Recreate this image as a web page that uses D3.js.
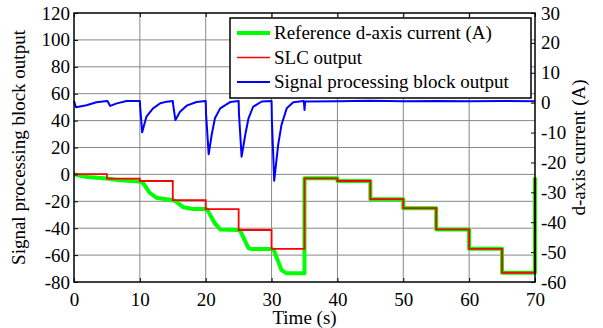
<!DOCTYPE html>
<html>
<head>
<meta charset="utf-8">
<script src="https://cdn.jsdelivr.net/npm/d3@7"></script>
<style>
  body { margin: 0; background: #fff; }
  svg text { font-family: "Liberation Serif", "Times New Roman", serif; fill: #000; }
</style>
</head>
<body>
<div id="chart"></div>
<script>
// tick labels
var timeTicks = [0, 10, 20, 30, 40, 50, 60, 70];
var leftTicks = [-80, -60, -40, -20, 0, 20, 40, 60, 80, 100, 120];
var rightTicks = [-60, -50, -40, -30, -20, -10, 0, 10, 20, 30];

// reference d-axis current (A), right axis
var refTime = [0, 1, 2, 5, 7, 10, 10.5, 11.5, 12.5, 14, 15, 15.5, 16.6, 18.1, 20, 20.2, 21.4, 22.2, 25,
  25.2, 26.5, 27, 30, 30.3, 31.5, 32.3, 35, 35, 40, 40, 45, 45, 50, 50, 55, 55, 60, 60, 65, 65, 70, 70];
var refCurrent = [-23.9, -24.5, -24.9, -25.4, -26.0, -26.4, -26.9, -30.2, -31.8, -32.3, -32.6, -33.1, -35.0, -35.6, -35.6, -35.7, -40.4, -42.4, -42.6,
  -42.7, -48.7, -49.0, -49.0, -49.1, -56.0, -57.1, -57.1, -25.3, -25.3, -26.2, -26.2, -32.3, -32.3, -35.3, -35.3, -42.4, -42.4, -48.9, -48.9, -56.9, -56.9, -25];

// SLC output (A), held from each time to the next
var slcTime = [0, 5, 10, 15, 20, 25, 30, 35, 40, 45, 50, 55, 60, 65, 70];
var slcOutput = [-23.9, -25.4, -26.2, -32.6, -35.6, -42.6, -48.9, -25.3, -26.2, -32.3, -35.3, -42.4, -48.9, -56.9, -25];

// signal processing block output, left axis
var spTime = [0, 0.3, 1.9, 3.4, 5, 5.1, 5.5, 6.5, 8, 10,
  10.05, 10.35, 11.0, 12.0, 13.1, 14.1, 15,
  15.05, 15.4, 16.1, 17.1, 18.6, 20,
  20.05, 20.45, 20.9, 21.4, 22.2, 23.7, 25,
  25.05, 25.45, 26.0, 26.5, 27.2, 28.5, 30,
  30.05, 30.4, 31.0, 31.5, 32.3, 33.3, 34.9,
  35, 35.1, 40, 45, 50, 55, 60, 65, 70];
var spOutput = [54.6, 49.9, 51.4, 53.6, 54.6, 54.4, 50.9, 52.8, 54.6, 54.6,
  50, 31.3, 43, 49.1, 52.9, 54.1, 54.6,
  52, 40.4, 46.6, 51.1, 53.8, 54.6,
  45, 15, 29.3, 41.7, 49.1, 53.8, 54.6,
  45, 13.2, 29.3, 41.7, 50.3, 54.2, 54.6,
  40, -4.7, 21.9, 36.7, 49.1, 53.6, 54.6,
  47.9, 54.2, 54.4, 54.8, 54.3, 54.6, 54.3, 54.6, 54.4];

var legendItems = [
  {label: "Reference d-axis current (A)", color: "#00ff00", w: 4},
  {label: "SLC output", color: "#ff0000", w: 1.5},
  {label: "Signal processing block output", color: "#0000ff", w: 1.8}
];

var W = 603, H = 328;
var margin = {left: 74, top: 13, right: 68, bottom: 46};
var width = W - margin.left - margin.right;
var height = H - margin.top - margin.bottom;
var serif = "Liberation Serif";
var fs = "19px";

var svg = d3.select("#chart").append("svg")
  .attr("width", W).attr("height", H);

var g = svg.append("g")
  .attr("transform", "translate(" + margin.left + "," + margin.top + ")");

var x = d3.scaleLinear().domain([0, 70]).range([0, width]);
var yL = d3.scaleLinear().domain([-80, 120]).range([height, 0]);
var yR = d3.scaleLinear().domain([-60, 30]).range([height, 0]);

// grid
g.append("g").selectAll("line")
  .data(timeTicks.slice(1, -1)).enter().append("line")
  .attr("x1", function(d){ return x(d); }).attr("x2", function(d){ return x(d); })
  .attr("y1", 0).attr("y2", height)
  .attr("stroke", "#888").attr("stroke-width", 1);
g.append("g").selectAll("line")
  .data(leftTicks.slice(1, -1)).enter().append("line")
  .attr("x1", 0).attr("x2", width)
  .attr("y1", function(d){ return yL(d); }).attr("y2", function(d){ return yL(d); })
  .attr("stroke", "#888").attr("stroke-width", 1);

// reference current
var refLine = d3.line()
  .x(function(d, i){ return x(refTime[i]); })
  .y(function(d){ return yR(d); });
g.append("path").datum(refCurrent)
  .attr("d", refLine)
  .attr("fill", "none").attr("stroke", "#00ff00").attr("stroke-width", 4)
  .attr("stroke-linejoin", "round");

// SLC output, steps with the final jump at t=70
var slcPts = [];
for (var i = 0; i < slcTime.length - 1; i++) {
  slcPts.push([slcTime[i], slcOutput[i]]);
  slcPts.push([slcTime[i + 1], slcOutput[i]]);
}
slcPts.push([slcTime[slcTime.length - 1], slcOutput[slcOutput.length - 1]]);
g.append("path").datum(slcPts)
  .attr("d", d3.line().x(function(d){ return x(d[0]); }).y(function(d){ return yR(d[1]); }))
  .attr("fill", "none").attr("stroke", "#ff0000").attr("stroke-width", 1.8);

// signal processing block
var spLine = d3.line()
  .x(function(d, i){ return x(spTime[i]); })
  .y(function(d){ return yL(d); });
g.append("path").datum(spOutput)
  .attr("d", spLine)
  .attr("fill", "none").attr("stroke", "#0000ff").attr("stroke-width", 2)
  .attr("stroke-linejoin", "round");

// axes, ticks inside
var axB = g.append("g").attr("transform", "translate(0," + height + ")")
  .call(d3.axisBottom(x).tickValues(timeTicks).tickSizeInner(-4).tickSizeOuter(0).tickPadding(8));
var axT = g.append("g")
  .call(d3.axisTop(x).tickValues(timeTicks).tickSizeInner(-4).tickSizeOuter(0).tickFormat(""));
var axL = g.append("g")
  .call(d3.axisLeft(yL).tickValues(leftTicks).tickSizeInner(-4).tickSizeOuter(0).tickPadding(4));
var axR = g.append("g").attr("transform", "translate(" + width + ",0)")
  .call(d3.axisRight(yR).tickValues(rightTicks).tickSizeInner(-4).tickSizeOuter(0).tickPadding(6));

[axB, axT, axL, axR].forEach(function(a){
  a.attr("font-family", serif).attr("font-size", 19);
  a.select(".domain").remove();
  a.selectAll(".tick line").attr("stroke", "#000").attr("stroke-width", 1);
  a.selectAll(".tick text").style("font-family", serif).style("font-size", fs);
});
axB.selectAll(".tick text").attr("dy", "0.85em");
axL.selectAll(".tick text").text(function(d){ return d < 0 ? "-" + Math.abs(d) : d; });
axR.selectAll(".tick text").text(function(d){ return d < 0 ? "-" + Math.abs(d) : d; });

// frame
g.append("rect").attr("x", 0).attr("y", 0).attr("width", width).attr("height", height)
  .attr("fill", "none").attr("stroke", "#000").attr("stroke-width", 1.5);

// axis titles
svg.append("text")
  .attr("transform", "translate(" + (margin.left + width / 2) + "," + (H - 4) + ")")
  .attr("text-anchor", "middle").style("font-size", fs)
  .text("Time (s)");
svg.append("text")
  .attr("transform", "translate(25," + (margin.top + height / 2) + ") rotate(-90)")
  .attr("text-anchor", "middle").style("font-size", fs)
  .text("Signal processing block output");
svg.append("text")
  .attr("transform", "translate(" + (W - 18) + "," + (margin.top + height / 2) + ") rotate(-90)")
  .attr("text-anchor", "middle").style("font-size", fs)
  .text("d-axis current (A)");

// legend
var lg = svg.append("g").attr("transform", "translate(230,18)");
lg.append("rect").attr("width", 301).attr("height", 80)
  .attr("fill", "#fff").attr("stroke", "#000").attr("stroke-width", 1.5);
var li = lg.selectAll("g").data(legendItems).enter().append("g")
  .attr("transform", function(d, i){ return "translate(0," + (15 + i * 24.5) + ")"; });
li.append("line").attr("x1", 7).attr("x2", 40).attr("y1", 0).attr("y2", 0)
  .attr("stroke", function(d){ return d.color; })
  .attr("stroke-width", function(d){ return d.w; });
li.append("text").attr("x", 44).attr("y", 0).attr("dy", "0.33em")
  .style("font-size", fs)
  .text(function(d){ return d.label; });
</script>
</body>
</html>
